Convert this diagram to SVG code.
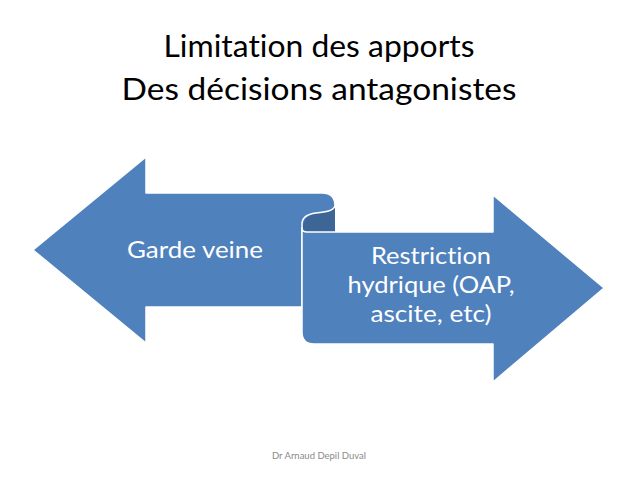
<svg xmlns="http://www.w3.org/2000/svg" width="638" height="479" viewBox="0 0 638 479">
<style>
text{font-variant-ligatures:none;font-feature-settings:"liga" 0}
.title{font-family:Lato,"Liberation Sans",sans-serif;font-size:30px;fill:#000;text-anchor:middle}
.lbl{font-family:Lato,"Liberation Sans",sans-serif;font-size:24px;fill:#fff;text-anchor:middle}
.foot{font-family:Lato,"Liberation Sans",sans-serif;font-size:10px;fill:#8a8a8a;text-anchor:middle}
.shape{fill:#4F81BD;stroke:#fff;stroke-width:1.5;stroke-linejoin:round}
.back{fill:#3D6596;stroke:none}
.edge{fill:none;stroke:#fff;stroke-width:1.5}
</style>
<rect width="638" height="479" fill="#fff"/>
<g id="title">
<text class="title" x="319" y="57" textLength="311" lengthAdjust="spacingAndGlyphs">Limitation des apports</text>
<text class="title" x="319" y="100" textLength="395" lengthAdjust="spacingAndGlyphs">Des décisions antagonistes</text>
</g>
<g id="node-left">
<path class="shape" d="M33,250 L146,157 L146,193 L322,193 Q335,193 335,206 L335,233 L302,233 L302,307 L146,307 L146,343 Z"/>
<text class="lbl" x="195" y="258" textLength="136" lengthAdjust="spacingAndGlyphs">Garde veine</text>
</g>
<g id="node-curl">
<path class="back" d="M303,230 C302,218 310,214 318,213 C327,212 333,211 335,207 L335,233 L303,233 Z"/>
</g>
<g id="node-right">
<path class="shape" d="M302,228 Q302,232 307,232 L493,232 L493,195 L604,288 L493,382 L493,344 L314,344 Q302,344 302,332 Z"/>
<path class="edge" d="M302,232 L302,224 C302,217 308,214 316,213 C326,212 333,211 335,206"/>
<text class="lbl" x="431" y="264" textLength="120" lengthAdjust="spacingAndGlyphs">Restriction</text>
<text class="lbl" x="431" y="293" textLength="167" lengthAdjust="spacingAndGlyphs">hydrique (OAP,</text>
<text class="lbl" x="431" y="322" textLength="121" lengthAdjust="spacingAndGlyphs">ascite, etc)</text>
</g>
<g id="connectors"></g>
<g id="footer">
<text class="foot" x="319" y="459" textLength="94" lengthAdjust="spacingAndGlyphs">Dr Arnaud Depil Duval</text>
</g>
</svg>
